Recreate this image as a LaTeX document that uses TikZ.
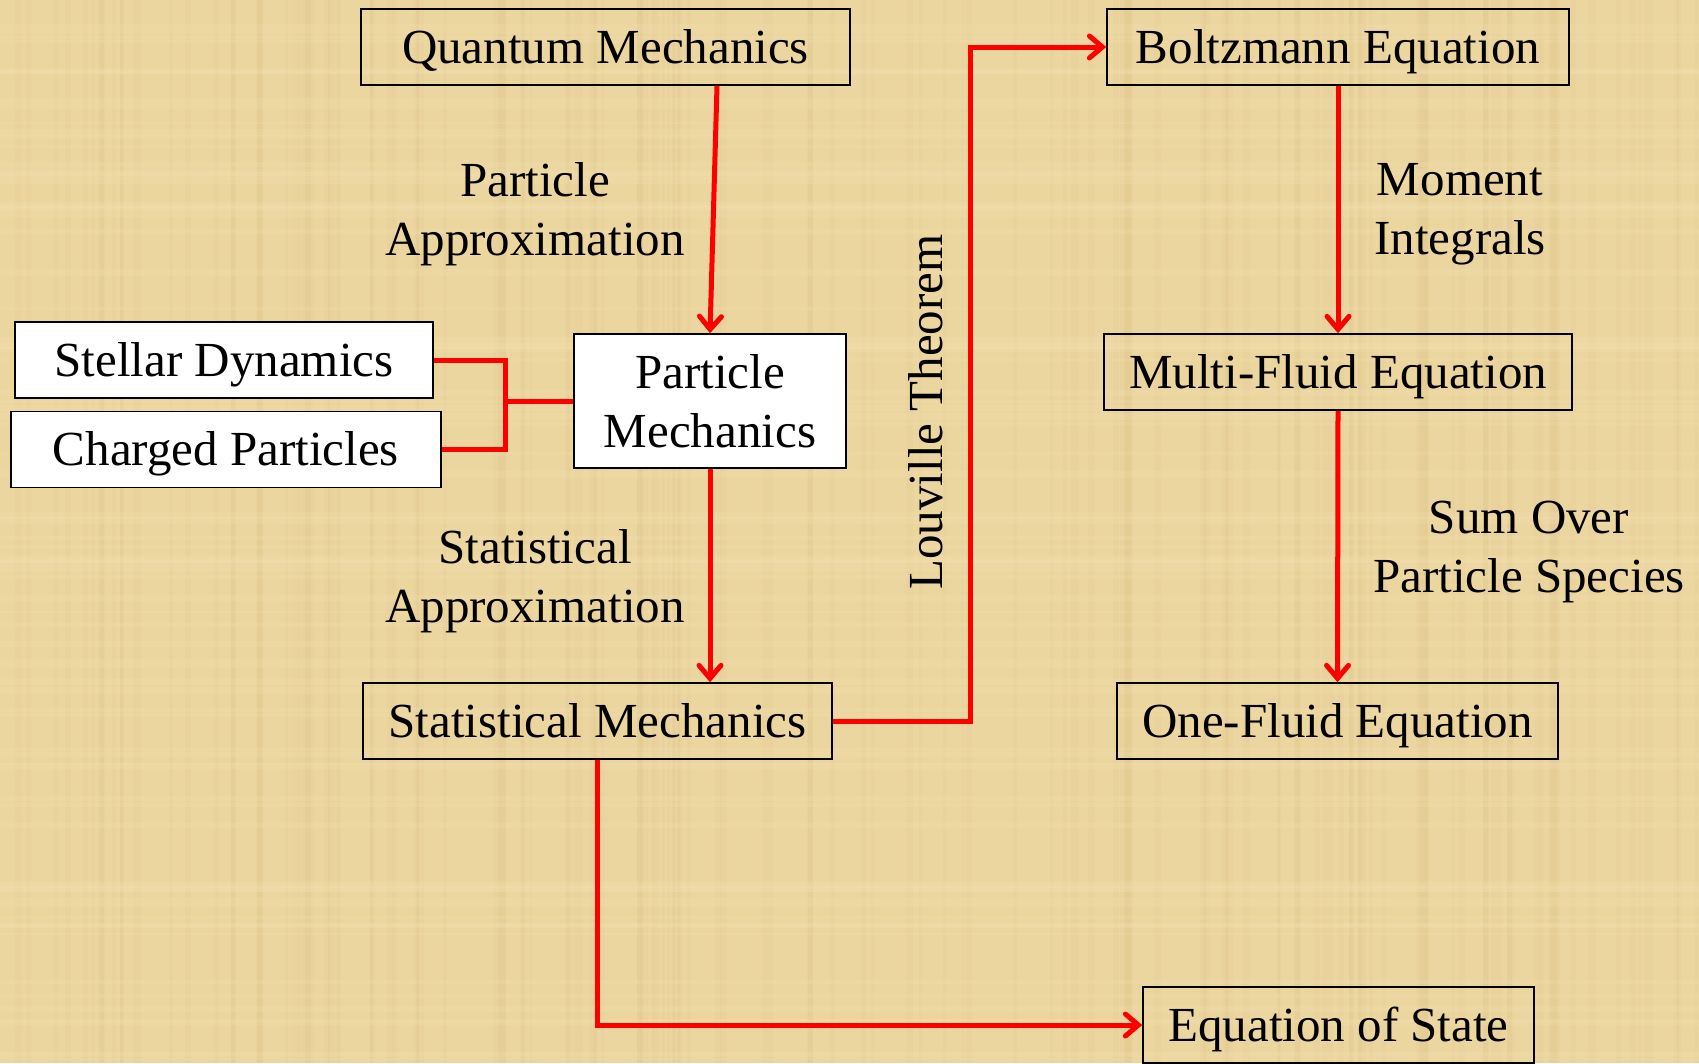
\documentclass[tikz,border=0pt]{standalone}
\usepackage{fontspec}
\setmainfont{Liberation Serif}
\usepackage{tikz}
\usetikzlibrary{positioning,arrows.meta,calc}
\definecolor{papyrus}{RGB}{236,214,160}
\definecolor{papyrusdark}{RGB}{214,186,126}
\definecolor{papyruslight}{RGB}{245,228,182}
\definecolor{linkred}{RGB}{255,0,0}

\tikzset{
    box/.style={draw=black, line width=1.5pt, inner sep=0pt, minimum height=76pt, align=center,
        text height=40pt, text depth=8pt},
    whitebox/.style={box, fill=white},
    link/.style={draw=linkred, line width=5pt},
    arr/.style={link, -{Straight Barb[length=13pt, width=22pt, line cap=round]}},
    lbl/.style={align=center}
}

\begin{document}
\begin{tikzpicture}[x=1pt, y=-1pt, font=\fontsize{49}{59}\selectfont]
        % Background
        \fill[papyrus] (0,0) rectangle (1699,1063);
        \pgfmathsetseed{7}
        \foreach \i in {1,...,140}
            \fill[papyrusdark, opacity=0.12] ({rnd*1699},0) rectangle ++({2+rnd*6},1063);
        \foreach \i in {1,...,80}
            \fill[papyruslight, opacity=0.2] (0,{rnd*1063}) rectangle ++(1699,{2+rnd*5});
        \useasboundingbox (0,0) rectangle (1699,1063);

        % Boxes
        \node[box, minimum width=489pt] (qm) at (605.5,47) {Quantum Mechanics};
        \node[box, minimum width=462pt] (bm) at (1338,47) {Boltzmann Equation};
        \node[whitebox, minimum width=418pt] (sd) at (224,360) {Stellar Dynamics};
        \node[whitebox, minimum width=430pt] (cp) at (226,449.5) {Charged Particles};
        \node[whitebox, minimum width=272pt, minimum height=134pt, text height=, text depth=] (pm) at (710,401) {Particle\\Mechanics};
        \node[box, minimum width=468pt] (mf) at (1338,372) {Multi-Fluid Equation};
        \node[box, minimum width=469pt] (sm) at (597.5,721) {Statistical Mechanics};
        \node[box, minimum width=441pt] (of) at (1337.5,721) {One-Fluid Equation};
        \node[box, minimum width=391pt] (eos) at (1338.5,1025) {Equation of State};

        % Labels
        \node[lbl] (pa) at (535,214) {Particle\\Approximation};
        \node[lbl] (sa) at (535,581) {Statistical\\Approximation};
        \node[lbl] (mi) at (1460,214) {Moment\\Integrals};
        \node[lbl] (so) at (1529,552) {Sum Over\\Particle Species};
        \node[rotate=90] (lt) at (926,412) {Louville Theorem};

        % Connectors
        \draw[arr] ([xshift=111.5pt]qm.south) -- (pm.north);
        \draw[arr] (pm.south) -- (pm.south |- sm.north);
        \draw[arr] (bm.south) -- (mf.north);
        \draw[arr] (mf.south) -- (of.north);
        \draw[arr] (sm.east) -- ++(138,0) |- (bm.west);
        \draw[arr] (sm.south) |- (eos.west);

        \coordinate (fork) at (505,401);
        \draw[link] (sd.east) -| (fork) |- (cp.east);
        \draw[link] (fork) -- (pm.west);
    \end{tikzpicture}
\end{document}
